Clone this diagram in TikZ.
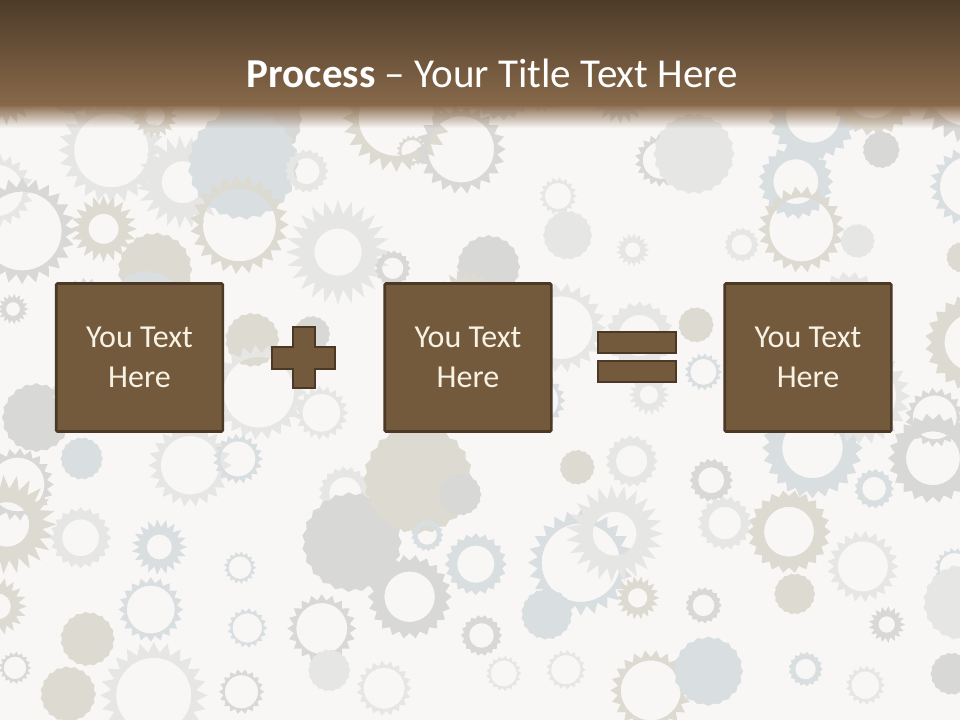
\documentclass[tikz,border=0pt]{standalone}
\usepackage{fontspec}
\setmainfont{Carlito}
\usetikzlibrary{fadings}
\definecolor{hdtop}{HTML}{4D3C29}
\definecolor{hdbot}{HTML}{88694A}
\definecolor{boxfill}{HTML}{735A3D}
\definecolor{boxline}{HTML}{4B3926}
\definecolor{boxtext}{HTML}{F8F2E4}
\definecolor{paper}{HTML}{F8F7F5}
\definecolor{gearA}{HTML}{D8D8D6}
\definecolor{gearB}{HTML}{DDDAD1}
\definecolor{gearC}{HTML}{D9DEE0}
\definecolor{gearD}{HTML}{E6E7E4}
\tikzfading[name=fadedown, top color=transparent!0, bottom color=transparent!100]

% gear: x, y, radius, teeth, valley ratio, hole ratio, colour
\newcommand\gear[7]{%
  \pgfmathtruncatemacro\gN{2*#4}%
  \ifdim#6pt>0pt \def\ghole{(0,0) circle ({#3*#6})}\else\def\ghole{}\fi
  \begin{scope}[shift={(#1,#2)}]
    \fill[#7,even odd rule] (0:#3)
      \foreach \k in {1,...,\gN}{ -- ({\k*180/#4}:{ifthenelse(isodd(\k),#3*#5,#3)}) }
      -- cycle \ghole;
  \end{scope}}

\tikzset{
  textbox/.style={draw=boxline, line width=2pt, fill=boxfill, text=boxtext,
    minimum width=125pt, minimum height=111pt, inner sep=0pt, rounded corners=1pt,
    align=center, font=\fontsize{24}{30}\selectfont},
  symbol/.style={draw=boxline, line width=2pt, fill=boxfill},
  title/.style={text=white, anchor=base, inner sep=0pt, font=\fontsize{30.8}{36}\selectfont}
}

\begin{document}
\begin{tikzpicture}[x=0.75pt, y=-0.75pt]
  \useasboundingbox (0,0) rectangle (960,720);
  \clip (0,0) rectangle (960,720);
  \fill[paper] (0,0) rectangle (960,720);

  % background pattern
  \pgfmathsetseed{2718}
  \foreach \i in {0,...,12}{
    \foreach \j in {0,...,8}{
      \pgfmathsetmacro\gx{\i*78+rnd*50-10}
      \pgfmathsetmacro\gy{100+\j*74+rnd*50-25}
      \pgfmathsetmacro\gr{15+42*rnd^1.4}
      \pgfmathtruncatemacro\gn{14+\gr/5}
      \pgfmathtruncatemacro\gt{random(1,5)}
      \pgfmathtruncatemacro\gc{random(1,4)}
      \ifcase\gc\or\def\gcol{gearA}\or\def\gcol{gearB}\or\def\gcol{gearC}\or\def\gcol{gearD}\fi
      \ifcase\gt
      \or \gear{\gx}{\gy}{\gr}{\gn}{0.82}{0.74}{\gcol}
      \or \gear{\gx}{\gy}{\gr}{\gn}{0.94}{0}{\gcol}
      \or \gear{\gx}{\gy}{\gr}{\gn}{0.86}{0.6}{\gcol}
      \or \gear{\gx}{\gy}{\gr}{\gn}{0.72}{0.45}{\gcol}
      \or \gear{\gx}{\gy}{\gr}{\gn}{0.8}{0.7}{\gcol}
      \fi
    }
  }

  % header
  \shade[top color=hdtop, bottom color=hdbot] (0,0) rectangle (960,106);
  \fill[hdbot, path fading=fadedown] (0,104) rectangle (960,128);
  \node[title] (title) at (492.5,87.3) {\textbf{Process} – Your Title Text Here};

  % boxes
  \node[textbox] (box1) at (139.5,357.5) {You Text\\Here};
  \node[textbox] (box2) at (468,357.5) {You Text\\Here};
  \node[textbox] (box3) at (808,357.5) {You Text\\Here};

  % plus and equals
  \draw[symbol] (293,327) -- (315,327) -- (315,347) -- (335,347) -- (335,369)
    -- (315,369) -- (315,388) -- (293,388) -- (293,369) -- (272,369)
    -- (272,347) -- (293,347) -- cycle;
  \draw[symbol] (598,332) rectangle (676,353);
  \draw[symbol] (598,361) rectangle (676,382);
\end{tikzpicture}
\end{document}
